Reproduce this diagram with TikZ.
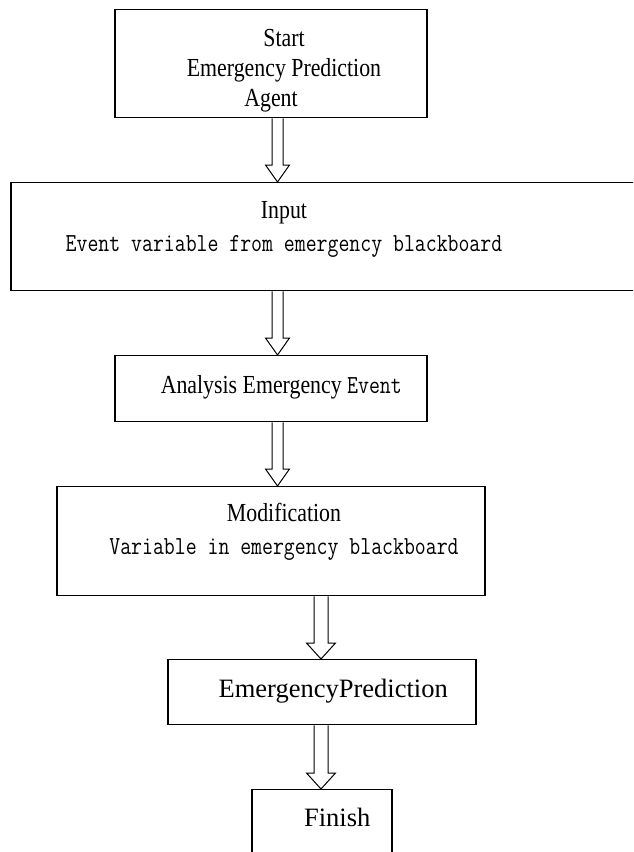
\documentclass[tikz,border=0pt]{standalone}
\usepackage{fontspec}
\setmainfont{Liberation Serif}[FakeStretch=0.84]
\newfontfamily\wideserif{Liberation Serif}
\newfontfamily\monofont{Latin Modern Mono}[FakeStretch=0.815]
\usetikzlibrary{
    calc,
    positioning
}
\newcommand{\topgap}[1]{\rule{0pt}{#1}}
\newcommand{\botgap}[1]{\rule[-#1]{0pt}{#1}}
\newcommand{\mono}[1]{{\monofont\fontsize{26pt}{30pt}\selectfont #1}}
% hollow block arrow: shaft half width, head half width, head length, from, to
\newcommand{\flowarrow}[5]{%
    \draw[flow] let \p1=(#4), \p2=(#5) in
        (\x2-#1,\y1) -- (\x2-#1,\y2+#3) -- (\x2-#2,\y2+#3) -- (\x2,\y2)
        -- (\x2+#2,\y2+#3) -- (\x2+#1,\y2+#3) -- (\x2+#1,\y1);
}

\begin{document}
\begin{tikzpicture}[
        x=1pt, y=-1pt,
        stepbox/.style={draw, line width=1.4pt, anchor=north, inner xsep=0pt, inner ysep=0pt, align=center, font={\fontsize{26pt}{30pt}\selectfont}},
        widebox/.style={stepbox, font={\wideserif\fontsize{26.5pt}{30pt}\selectfont}},
        flow/.style={draw, line width=1pt, line join=miter}
    ]
        \useasboundingbox (0,0) rectangle (633,852);
        \clip (0,0) rectangle (633,852);

        % Start
        \node[stepbox, minimum width=312pt] (start) at (271,9) {
            \topgap{37pt}\hspace*{26pt}Start\\
            \hspace*{26pt}Emergency Prediction\\
            Agent\botgap{11pt}
        };

        % Input
        \node[stepbox, minimum width=634pt] (input) at (328,182) {
            \topgap{36pt}Input\hspace*{88pt}\\[3pt]
            \mono{Event variable from emergency blackboard}\hspace*{88pt}\botgap{39pt}
        };

        % Analysis
        \node[stepbox, minimum width=312pt] (analysis) at (271,355) {
            \topgap{38pt}\hspace*{26pt}Analysis Emergency \mono{Event}\botgap{28pt}
        };

        % Modification
        \node[stepbox, minimum width=428pt] (modif) at (271,486) {
            \topgap{35pt}\hspace*{26pt}Modification\\[3pt]
            \hspace*{26pt}\mono{Variable in emergency blackboard}\botgap{41pt}
        };

        % Prediction
        \node[widebox, minimum width=308pt] (predict) at (322,659) {
            \topgap{38pt}\hspace*{29pt}EmergencyPrediction\botgap{27pt}
        };

        % Finish
        \node[widebox, minimum width=140pt] (finish) at (322,789) {
            \topgap{37pt}\hspace*{37pt}Finish\botgap{54pt}
        };

        % Arrows
        \flowarrow{5.5pt}{12pt}{17pt}{start.south}{[xshift=-50.5pt]input.north}
        \flowarrow{5.5pt}{12pt}{17pt}{input.south}{[xshift=6.5pt]analysis.north}
        \flowarrow{5.5pt}{12pt}{17pt}{analysis.south}{[xshift=6.5pt]modif.north}
        \flowarrow{7pt}{14.5pt}{16pt}{modif.south}{[xshift=-1pt]predict.north}
        \flowarrow{7pt}{14.5pt}{16pt}{predict.south}{[xshift=-1pt]finish.north}
    \end{tikzpicture}
\end{document}
